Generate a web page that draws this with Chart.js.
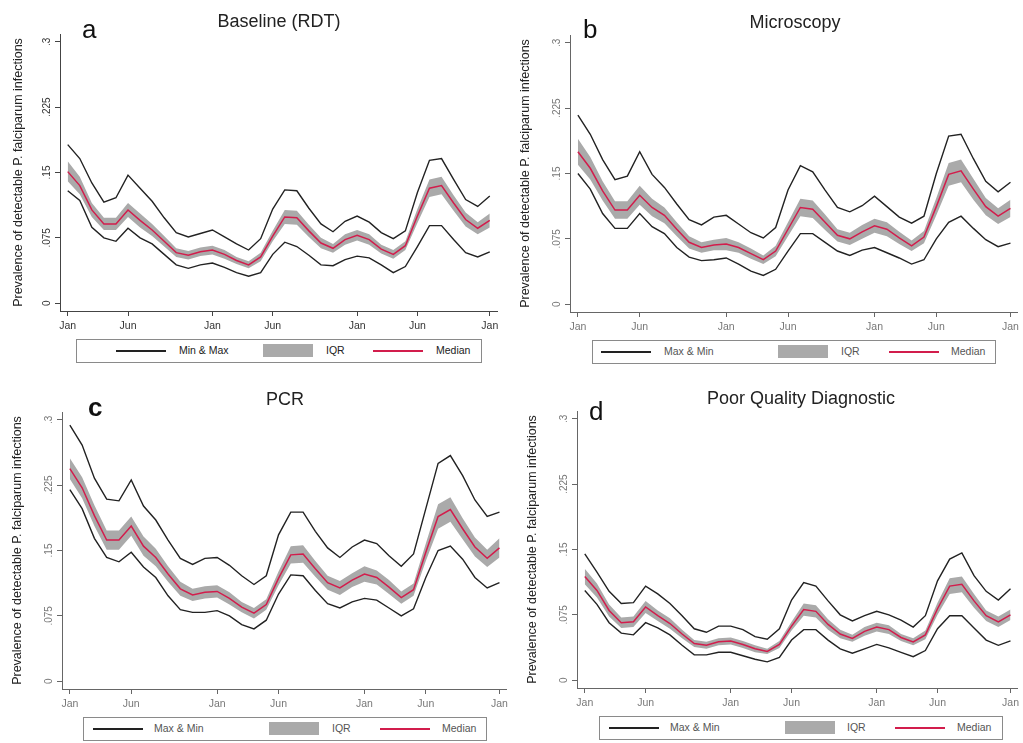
<!DOCTYPE html>
<html>
<head>
<meta charset="utf-8">
<script src="https://cdn.jsdelivr.net/npm/chart.js@4.4.1/dist/chart.umd.min.js"></script>
<style>
  body { margin: 0; background: #fff; width: 1023px; height: 743px; position: relative; overflow: hidden;
         font-family: "Liberation Sans", Arial, sans-serif; }
  .panel { position: absolute; }
  .panel canvas { position: absolute; left: 0; top: 0; }
  .ttl { position: absolute; font-size: 18px; line-height: 18px; color: #222; white-space: nowrap; transform: translateX(-50%); }
  .lett { position: absolute; font-size: 26px; line-height: 26px; color: #111; }
  .leg { position: absolute; border: 1.5px solid #8a8a8a; box-sizing: border-box; height: 24px; }
  .leg div { position: absolute; }
  .leg .txt { font-size: 10.5px; line-height: 21px; top: 0; white-space: nowrap; }
</style>
</head>
<body>
<script>
// x axis: 36 monthly points, Jan of year 1 to Dec of year 3
const months = ['Jan','Feb','Mar','Apr','May','Jun','Jul','Aug','Sep','Oct','Nov','Dec',
                'Jan','Feb','Mar','Apr','May','Jun','Jul','Aug','Sep','Oct','Nov','Dec',
                'Jan','Feb','Mar','Apr','May','Jun','Jul','Aug','Sep','Oct','Nov','Dec'];
const xTickPos = [0, 5, 12, 17, 24, 29, 35];
const xTickLabels = ['Jan', 'Jun', 'Jan', 'Jun', 'Jan', 'Jun', 'Jan'];
const yTickPos = [0, 0.075, 0.15, 0.225, 0.3];
const yTickLabels = ['0', '.075', '.15', '.225', '.3'];
const yTitle = 'Prevalence of detectable P. falciparum infections';

// a - Baseline (RDT)
const aMax = [0.182,0.166,0.138,0.116,0.121,0.147,0.132,0.117,0.098,0.081,0.076,0.080,0.084,0.076,0.068,0.061,0.074,0.108,0.130,0.129,0.109,0.091,0.082,0.094,0.100,0.093,0.081,0.074,0.083,0.127,0.164,0.166,0.142,0.119,0.111,0.123];
const aQ3  = [0.163,0.145,0.115,0.098,0.098,0.115,0.103,0.091,0.077,0.063,0.060,0.064,0.066,0.061,0.053,0.048,0.058,0.083,0.107,0.106,0.090,0.075,0.068,0.079,0.084,0.079,0.067,0.061,0.071,0.108,0.142,0.145,0.124,0.104,0.093,0.103];
const aMed = [0.151,0.135,0.107,0.091,0.091,0.107,0.095,0.084,0.071,0.058,0.055,0.059,0.061,0.056,0.049,0.044,0.053,0.077,0.099,0.098,0.083,0.069,0.063,0.073,0.078,0.073,0.062,0.056,0.066,0.100,0.132,0.135,0.115,0.096,0.086,0.095];
const aQ1  = [0.140,0.125,0.099,0.084,0.084,0.099,0.087,0.077,0.065,0.053,0.050,0.054,0.056,0.051,0.045,0.040,0.048,0.071,0.091,0.090,0.076,0.063,0.058,0.067,0.072,0.067,0.057,0.051,0.061,0.092,0.122,0.125,0.106,0.088,0.079,0.087];
const aMin = [0.129,0.118,0.087,0.075,0.071,0.086,0.075,0.068,0.056,0.044,0.040,0.044,0.046,0.041,0.035,0.031,0.035,0.056,0.070,0.065,0.055,0.044,0.043,0.050,0.054,0.052,0.044,0.035,0.042,0.065,0.089,0.089,0.073,0.058,0.053,0.059];

// b - Microscopy
const bMax = [0.217,0.195,0.166,0.143,0.147,0.175,0.149,0.134,0.115,0.097,0.091,0.100,0.102,0.092,0.082,0.076,0.088,0.131,0.159,0.152,0.131,0.111,0.106,0.113,0.124,0.112,0.100,0.093,0.101,0.150,0.193,0.195,0.167,0.141,0.129,0.140];
const bQ3  = [0.190,0.169,0.141,0.118,0.118,0.136,0.121,0.111,0.094,0.078,0.071,0.074,0.076,0.071,0.064,0.056,0.067,0.094,0.121,0.119,0.103,0.086,0.082,0.091,0.098,0.094,0.083,0.073,0.084,0.122,0.162,0.166,0.144,0.122,0.110,0.120];
const bMed = [0.175,0.156,0.130,0.108,0.108,0.125,0.111,0.102,0.086,0.071,0.065,0.068,0.069,0.065,0.058,0.051,0.061,0.086,0.111,0.109,0.094,0.079,0.075,0.083,0.090,0.086,0.076,0.067,0.077,0.112,0.149,0.153,0.132,0.112,0.101,0.110];
const bQ1  = [0.160,0.143,0.119,0.098,0.098,0.114,0.101,0.093,0.078,0.064,0.059,0.062,0.062,0.059,0.052,0.046,0.055,0.078,0.101,0.099,0.085,0.072,0.068,0.075,0.082,0.078,0.069,0.061,0.070,0.102,0.136,0.140,0.120,0.102,0.092,0.100];
const bMin = [0.150,0.132,0.104,0.087,0.087,0.104,0.089,0.081,0.065,0.054,0.050,0.051,0.053,0.046,0.038,0.033,0.040,0.061,0.081,0.081,0.071,0.061,0.056,0.062,0.065,0.059,0.053,0.046,0.051,0.075,0.094,0.101,0.087,0.074,0.066,0.070];

// c - PCR
const cMax = [0.294,0.271,0.233,0.209,0.207,0.231,0.201,0.185,0.162,0.141,0.134,0.141,0.142,0.133,0.121,0.111,0.121,0.168,0.194,0.194,0.172,0.153,0.142,0.154,0.162,0.158,0.144,0.132,0.146,0.198,0.250,0.259,0.236,0.208,0.189,0.194];
const cQ3  = [0.256,0.234,0.202,0.173,0.173,0.189,0.166,0.152,0.132,0.114,0.106,0.109,0.110,0.102,0.091,0.084,0.094,0.126,0.155,0.156,0.138,0.121,0.115,0.124,0.132,0.127,0.116,0.103,0.112,0.158,0.203,0.211,0.187,0.165,0.151,0.164];
const cMed = [0.244,0.222,0.190,0.162,0.162,0.178,0.155,0.142,0.123,0.106,0.099,0.102,0.103,0.095,0.085,0.078,0.088,0.118,0.145,0.146,0.129,0.113,0.107,0.116,0.123,0.119,0.108,0.096,0.105,0.148,0.189,0.197,0.175,0.154,0.141,0.153];
const cQ1  = [0.232,0.210,0.178,0.151,0.151,0.167,0.144,0.132,0.114,0.098,0.092,0.095,0.096,0.088,0.079,0.072,0.082,0.110,0.135,0.136,0.120,0.105,0.099,0.108,0.114,0.111,0.100,0.089,0.098,0.138,0.175,0.183,0.163,0.143,0.131,0.142];
const cMin = [0.220,0.198,0.164,0.142,0.137,0.148,0.131,0.119,0.098,0.082,0.079,0.079,0.081,0.075,0.065,0.060,0.070,0.100,0.122,0.121,0.104,0.089,0.084,0.091,0.095,0.093,0.084,0.075,0.083,0.119,0.150,0.155,0.140,0.119,0.107,0.113];

// d - Poor Quality Diagnostic
const dMax = [0.145,0.124,0.102,0.088,0.089,0.108,0.099,0.088,0.074,0.059,0.055,0.062,0.062,0.058,0.050,0.047,0.059,0.092,0.112,0.108,0.091,0.075,0.068,0.074,0.079,0.075,0.069,0.061,0.074,0.114,0.139,0.146,0.120,0.102,0.092,0.105];
const dQ3  = [0.128,0.111,0.087,0.072,0.073,0.091,0.080,0.071,0.058,0.046,0.044,0.048,0.049,0.045,0.040,0.036,0.045,0.067,0.088,0.086,0.070,0.058,0.052,0.061,0.066,0.063,0.053,0.048,0.057,0.089,0.117,0.119,0.099,0.080,0.073,0.081];
const dMed = [0.119,0.103,0.080,0.066,0.067,0.084,0.074,0.065,0.053,0.042,0.040,0.044,0.045,0.041,0.036,0.033,0.041,0.062,0.081,0.079,0.064,0.053,0.048,0.056,0.061,0.058,0.049,0.044,0.052,0.082,0.108,0.110,0.091,0.074,0.067,0.075];
const dQ1  = [0.110,0.095,0.073,0.060,0.061,0.077,0.068,0.059,0.048,0.038,0.036,0.040,0.041,0.037,0.032,0.030,0.037,0.057,0.074,0.072,0.058,0.048,0.044,0.051,0.056,0.053,0.045,0.040,0.047,0.075,0.099,0.101,0.083,0.068,0.061,0.069];
const dMin = [0.103,0.087,0.066,0.054,0.052,0.066,0.060,0.052,0.040,0.029,0.029,0.032,0.032,0.028,0.024,0.021,0.026,0.046,0.058,0.058,0.046,0.036,0.031,0.036,0.041,0.037,0.032,0.027,0.034,0.059,0.074,0.074,0.060,0.046,0.040,0.045];

Chart.defaults.font.family = '"Liberation Sans", Arial, sans-serif';

const LINE_COL = '#222222';
const MED_COL = '#d21d4c';
const IQR_COL = '#aaaaaa';

function pts(arr) {
  return arr.map((v, i) => ({ x: i, y: v }));
}

function addText(parent, cls, text, css) {
  const d = document.createElement('div');
  d.className = cls;
  d.textContent = text;
  Object.assign(d.style, css);
  parent.appendChild(d);
  return d;
}

function makePanel(p) {
  const div = document.createElement('div');
  div.className = 'panel';
  Object.assign(div.style, { left: p.x + 'px', top: p.y + 'px', width: p.w + 'px', height: p.h + 'px' });
  document.body.appendChild(div);

  const cv = document.createElement('canvas');
  cv.width = p.w; cv.height = p.h;
  cv.style.width = p.w + 'px'; cv.style.height = p.h + 'px';
  div.appendChild(cv);

  const axisCol = p.dark ? '#444' : '#666';
  const tickCol = p.dark ? '#333' : '#777';

  new Chart(cv.getContext('2d'), {
    type: 'line',
    data: {
      datasets: [
        { label: 'Median', data: pts(p.med), borderColor: MED_COL, borderWidth: 1.5, order: 0, fill: false },
        { label: 'Max', data: pts(p.max), borderColor: LINE_COL, borderWidth: 1.4, order: 1, fill: false },
        { label: 'Min', data: pts(p.min), borderColor: LINE_COL, borderWidth: 1.4, order: 1, fill: false },
        { label: 'Q3', data: pts(p.q3), borderWidth: 0, borderColor: 'rgba(0,0,0,0)', backgroundColor: IQR_COL, fill: '+1', order: 2 },
        { label: 'Q1', data: pts(p.q1), borderWidth: 0, borderColor: 'rgba(0,0,0,0)', fill: false, order: 2 }
      ]
    },
    options: {
      responsive: false,
      animation: false,
      devicePixelRatio: 1,
      layout: { padding: { left: p.padL, top: p.area.top, right: p.w - p.area.right, bottom: 0 } },
      elements: { point: { radius: 0 }, line: { tension: 0 } },
      plugins: { legend: { display: false }, tooltip: { enabled: false } },
      scales: {
        x: {
          type: 'linear', min: -0.64, max: 35.6,
          afterBuildTicks: s => { s.ticks = xTickPos.map(v => ({ value: v })); },
          afterFit: s => { s.height = p.h - p.area.bottom; },
          grid: { display: true, drawOnChartArea: false, drawTicks: true, tickLength: 5, color: axisCol },
          border: { display: true, color: axisCol, width: 1 },
          ticks: { autoSkip: false, maxRotation: 0, padding: 4, color: tickCol, font: { size: 10.5 },
                   callback: (v, i) => xTickLabels[i] }
        },
        y: {
          min: -0.009, max: 0.309,
          afterBuildTicks: s => { s.ticks = yTickPos.map(v => ({ value: v })); },
          afterFit: s => { s.width = p.area.left - p.padL; },
          grid: { display: true, drawOnChartArea: false, drawTicks: true, tickLength: 5, color: axisCol },
          border: { display: true, color: axisCol, width: 1 },
          ticks: { minRotation: 90, maxRotation: 90, crossAlign: 'center', padding: -2, color: tickCol, font: { size: 10 },
                   callback: (v, i) => yTickLabels[i] },
          title: { display: true, text: yTitle, color: '#222', font: { size: 12.5 }, padding: 0 }
        }
      }
    }
  });

  // title and panel letter
  addText(document.body, 'ttl', p.title, { left: p.titleX + 'px', top: p.titleY + 'px' });
  const lt = addText(document.body, 'lett', p.letter, { left: p.letterX + 'px', top: p.letterY + 'px' });
  if (p.letterBold) lt.style.fontWeight = 'bold';

  // legend box
  const lg = document.createElement('div');
  lg.className = 'leg';
  Object.assign(lg.style, { left: p.leg.x + 'px', top: p.leg.y + 'px', width: p.leg.w + 'px' });
  document.body.appendChild(lg);
  const o = p.leg.off;
  const txtCol = p.dark ? '#222' : '#555';
  const l1 = document.createElement('div');
  Object.assign(l1.style, { left: o[0] + 'px', top: '10px', width: '50px', height: '1.5px', background: LINE_COL });
  lg.appendChild(l1);
  addText(lg, 'txt', p.leg.names[0], { left: o[1] + 'px', color: txtCol });
  const r = document.createElement('div');
  Object.assign(r.style, { left: o[2] + 'px', top: '4px', width: '50px', height: '13px', background: IQR_COL });
  lg.appendChild(r);
  addText(lg, 'txt', 'IQR', { left: o[3] + 'px', color: txtCol });
  const l2 = document.createElement('div');
  Object.assign(l2.style, { left: o[4] + 'px', top: '10px', width: '50px', height: '1.5px', background: MED_COL });
  lg.appendChild(l2);
  addText(lg, 'txt', 'Median', { left: o[5] + 'px', color: txtCol });
}

makePanel({
  x: 0, y: 0, w: 512, h: 336, padL: 11, dark: true,
  area: { left: 60, top: 34, right: 497, bottom: 311 },
  max: aMax, q3: aQ3, med: aMed, q1: aQ1, min: aMin,
  title: 'Baseline (RDT)', titleX: 279, titleY: 12,
  letter: 'a', letterX: 82, letterY: 16,
  leg: { x: 76, y: 339, w: 406, off: [39, 102, 186, 249, 296, 359], names: ['Min & Max'] }
});
makePanel({
  x: 512, y: 0, w: 511, h: 336, padL: 6, dark: false,
  area: { left: 58, top: 35, right: 507, bottom: 312 },
  max: bMax, q3: bQ3, med: bMed, q1: bQ1, min: bMin,
  title: 'Microscopy', titleX: 795, titleY: 13,
  letter: 'b', letterX: 583, letterY: 16,
  leg: { x: 592, y: 340, w: 404, off: [8, 71, 185, 248, 296, 358], names: ['Max & Min'] }
});
makePanel({
  x: 0, y: 385, w: 512, h: 330, padL: 10, dark: false,
  area: { left: 62, top: 27, right: 508, bottom: 304 },
  max: cMax, q3: cQ3, med: cMed, q1: cQ1, min: cMin,
  title: 'PCR', titleX: 285, titleY: 390,
  letter: 'c', letterX: 88, letterY: 394, letterBold: true,
  leg: { x: 83, y: 717, w: 404, off: [9, 70, 185, 248, 296, 358], names: ['Max & Min'] }
});
makePanel({
  x: 512, y: 385, w: 511, h: 330, padL: 13, dark: false,
  area: { left: 65, top: 26, right: 509, bottom: 303 },
  max: dMax, q3: dQ3, med: dMed, q1: dQ1, min: dMin,
  title: 'Poor Quality Diagnostic', titleX: 801, titleY: 389,
  letter: 'd', letterX: 589, letterY: 398,
  leg: { x: 599, y: 716, w: 404, off: [9, 70, 185, 247, 295, 357], names: ['Max & Min'] }
});
</script>
</body>
</html>
